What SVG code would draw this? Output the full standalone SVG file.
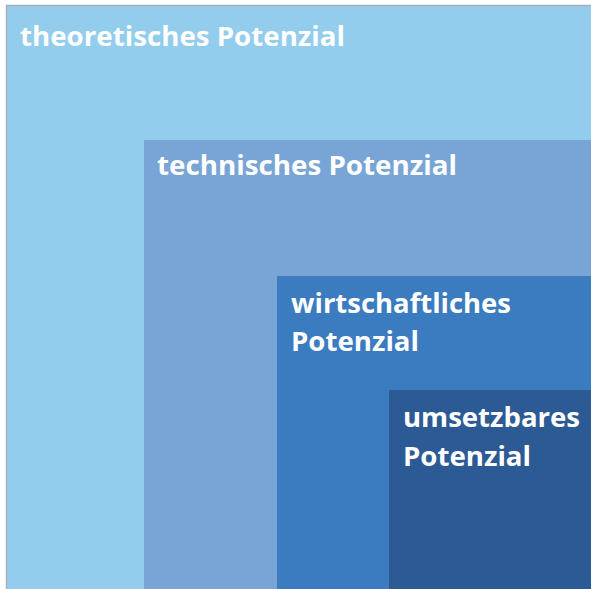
<svg xmlns="http://www.w3.org/2000/svg" width="591" height="589" viewBox="0 0 591 589">
<style>
.t{font-family:"Open Sans","Liberation Sans",sans-serif;font-weight:bold;font-size:26px;fill:#ffffff}
</style>
<rect width="591" height="589" fill="#ffffff"/>
<g id="theoretisch">
<rect x="6" y="5" width="585" height="584" fill="#93CDEE"/>
<path d="M6.5,589 V5.5 H591" fill="none" stroke="#A9AFB5" stroke-width="1.5"/>
<text class="t" x="20" y="46" textLength="325" lengthAdjust="spacingAndGlyphs">theoretisches Potenzial</text>
</g>
<g id="technisch">
<rect x="144" y="140" width="447" height="449" fill="#78A5D6"/>
<text class="t" x="157" y="175" textLength="300" lengthAdjust="spacingAndGlyphs">technisches Potenzial</text>
</g>
<g id="wirtschaftlich">
<rect x="277" y="276" width="314" height="313" fill="#3B7BC0"/>
<text class="t" x="291" y="313" textLength="220" lengthAdjust="spacingAndGlyphs">wirtschaftliches</text>
<text class="t" x="291" y="351" textLength="128" lengthAdjust="spacingAndGlyphs">Potenzial</text>
</g>
<g id="umsetzbar">
<rect x="389" y="390" width="202" height="199" fill="#2C5A94"/>
<text class="t" x="403" y="427" textLength="177" lengthAdjust="spacingAndGlyphs">umsetzbares</text>
<text class="t" x="403" y="466" textLength="128" lengthAdjust="spacingAndGlyphs">Potenzial</text>
</g>
<g id="connectors"/>
</svg>
